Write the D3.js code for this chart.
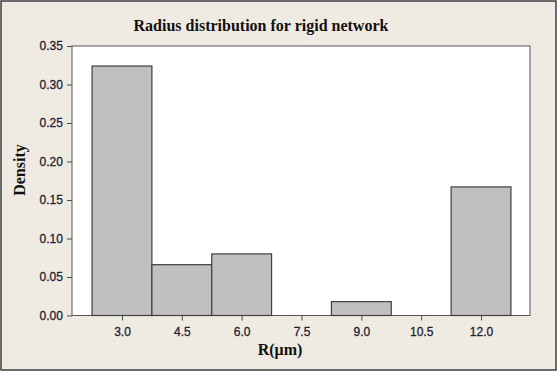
<!DOCTYPE html>
<html>
<head>
<meta charset="utf-8">
<script src="https://cdn.jsdelivr.net/npm/d3@7"></script>
<style>
  body { margin: 0; background: #ffffff; }
  .tick text { font-family: "Liberation Sans", Arial, sans-serif; font-size: 12px; fill: #1f2133; stroke: #1f2133; stroke-width: 0.3px; }
  .axis path, .axis line { stroke: #4a4a4a; }
  .ttl { font-family: "Liberation Serif", "Times New Roman", serif; font-weight: bold; fill: #111; }
</style>
</head>
<body>
<div id="chart"></div>
<script>
// histogram of radius, bins of width 1.5
var binCenters = [3.0, 4.5, 6.0, 7.5, 9.0, 10.5, 12.0];
var densities = [0.324, 0.066, 0.080, 0, 0.018, 0, 0.167];
var xTicks = [3.0, 4.5, 6.0, 7.5, 9.0, 10.5, 12.0];
var yTicks = [0.00, 0.05, 0.10, 0.15, 0.20, 0.25, 0.30, 0.35];
var binWidth = 1.5;

var W = 560, H = 375;
var margin = { top: 46, right: 30, bottom: 60, left: 72 };
var width = W - margin.left - margin.right,
    height = 315.5 - margin.top;

var svg = d3.select("#chart").append("svg")
  .attr("width", W)
  .attr("height", H);

// outer frame
svg.append("rect")
  .attr("x", 1).attr("y", 1)
  .attr("width", 555).attr("height", 369)
  .attr("fill", "#efebe2")
  .attr("stroke", "#3c3c3c")
  .attr("stroke-width", 1.5);

var g = svg.append("g")
  .attr("transform", "translate(" + margin.left + "," + margin.top + ")");

var x = d3.scaleLinear()
  .domain([1.747, 13.228])
  .range([0, width]);
var y = d3.scaleLinear()
  .domain([0, 0.35])
  .range([height, 0]);

// plot area
g.append("rect")
  .attr("width", width)
  .attr("height", height)
  .attr("fill", "#ffffff")
  .attr("stroke", "#555")
  .attr("stroke-width", 1);

var data = binCenters.map(function (c, i) { return { c: c, d: densities[i] }; });

g.selectAll(".bar")
  .data(data.filter(function (d) { return d.d > 0; }))
  .enter().append("rect")
  .attr("class", "bar")
  .attr("x", function (d) { return x(d.c - binWidth / 2); })
  .attr("width", function (d) { return x(d.c + binWidth / 2) - x(d.c - binWidth / 2); })
  .attr("y", function (d) { return y(d.d); })
  .attr("height", function (d) { return height - y(d.d); })
  .attr("fill", "#c0c0c0")
  .attr("stroke", "#3f3f3f")
  .attr("stroke-width", 1.2);

var xAxis = d3.axisBottom(x)
  .tickValues(xTicks)
  .tickSize(5)
  .tickFormat(d3.format(".1f"));
var yAxis = d3.axisLeft(y)
  .tickValues(yTicks)
  .tickSize(5)
  .tickFormat(d3.format(".2f"));

g.append("g")
  .attr("class", "x axis")
  .attr("transform", "translate(0," + height + ")")
  .call(xAxis)
  .call(function (s) { s.select(".domain").remove(); })
  .selectAll("text")
  .attr("dy", "1.05em");

g.append("g")
  .attr("class", "y axis")
  .call(yAxis)
  .call(function (s) { s.select(".domain").remove(); })
  .selectAll("text")
  .attr("dx", "-0.1em");

// title and labels
svg.append("text")
  .attr("class", "ttl")
  .attr("x", 261)
  .attr("y", 31)
  .style("font-size", "16px")
  .style("text-anchor", "middle")
  .text("Radius distribution for rigid network");

svg.append("text")
  .attr("class", "ttl")
  .attr("transform", "translate(25,170) rotate(-90)")
  .style("font-size", "16px")
  .style("text-anchor", "middle")
  .text("Density");

svg.append("text")
  .attr("class", "ttl")
  .attr("x", 280)
  .attr("y", 355)
  .style("font-size", "16px")
  .style("text-anchor", "middle")
  .text("R(μm)");
</script>
</body>
</html>
